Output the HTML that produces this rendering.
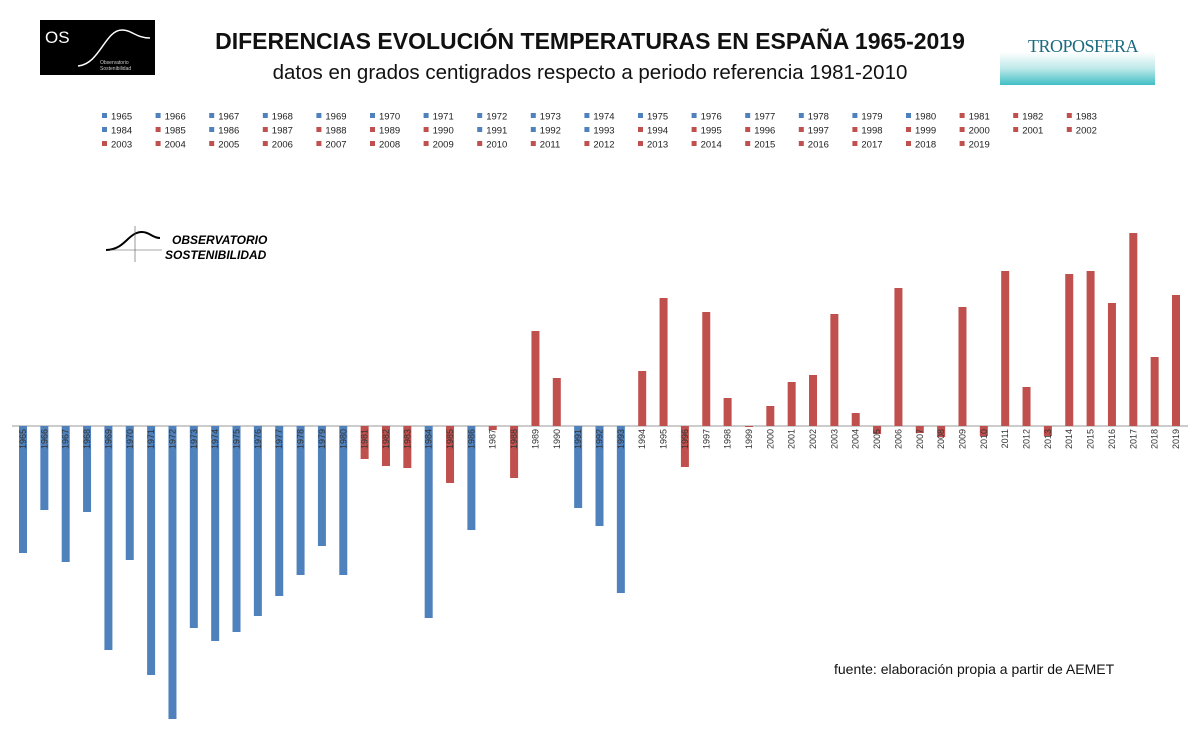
<!DOCTYPE html>
<html><head><meta charset="utf-8">
<style>
body{margin:0;background:#fff;width:1200px;height:732px;overflow:hidden;font-family:"Liberation Sans",sans-serif;}
#wrap{position:relative;width:1200px;height:732px;}
.t1{position:absolute;left:160px;top:28px;width:860px;text-align:center;font-weight:bold;font-size:23px;color:#111;}
.t2{position:absolute;left:160px;top:61px;width:860px;text-align:center;font-size:20.5px;color:#111;}
</style></head>
<body>
<div id="wrap">
<div style="position:absolute;left:40px;top:20px;width:115px;height:55px;background:#000;">
<div style="position:absolute;left:5px;top:8px;color:#fff;font-size:17px;">OS</div>
<svg width="115" height="55" style="position:absolute;left:0;top:0"><path d="M38 46 C60 44 65 10 82 10 C92 10 96 18 110 18" stroke="#fff" fill="none" stroke-width="1.5"/></svg>
<div style="position:absolute;left:60px;top:40px;color:#ccc;font-size:5px;line-height:6px;">Observatorio<br>Sostenibilidad</div>
</div>
<div class="t1">DIFERENCIAS EVOLUCIÓN TEMPERATURAS EN ESPAÑA 1965-2019</div>
<div class="t2">datos en grados centigrados respecto a periodo referencia 1981-2010</div>
<div style="position:absolute;left:1000px;top:30px;width:155px;height:55px;background:linear-gradient(#fff 0%,#fff 40%,#bfe9ea 70%,#3fbfc4 100%);">
<div style="position:absolute;left:28px;top:6px;font-family:'Liberation Serif',serif;font-size:18px;color:#1a6a80;letter-spacing:-0.5px;">TROPOSFERA</div>
</div>
<svg id="chart" width="1200" height="732" style="position:absolute;left:0;top:0"></svg>
</div>
<script>
const years=[];for(let y=1965;y<=2019;y++)years.push(y);
const values=[-1.27,-0.84,-1.36,-0.86,-2.24,-1.34,-2.49,-2.93,-2.02,-2.15,-2.06,-1.90,-1.70,-1.49,-1.20,-1.49,
-0.33,-0.40,-0.42,-1.92,-0.57,-1.04,-0.04,-0.52,0.95,0.48,-0.82,-1.00,-1.67,0.55,1.28,-0.41,1.14,0.28,-0.01,0.20,
0.44,0.51,1.12,0.13,-0.08,1.38,-0.07,-0.11,1.19,-0.10,1.55,0.39,-0.10,1.52,1.55,1.23,1.93,0.69,1.31];
const blueYears=[1965,1966,1967,1968,1969,1970,1971,1972,1973,1974,1975,1976,1977,1978,1979,1980,1984,1986,1991,1992,1993];
const BLUE="#4f81bd",RED="#c0504d";
const svg=document.getElementById('chart');const NS="http://www.w3.org/2000/svg";
const x0=23,x1=1176,base=426,pxPer=100;
const xs=i=>x0+(x1-x0)*i/(years.length-1);
const ys=v=>base-v*pxPer;
const col=y=>blueYears.includes(y)?BLUE:RED;
function mk(t,a){const e=document.createElementNS(NS,t);for(const k in a)e.setAttribute(k,a[k]);svg.appendChild(e);return e;}
years.forEach((y,i)=>{
 const c=i%19,r=Math.floor(i/19);
 const lx=105+c*53.6,ly=116+r*14;
 const m=mk('rect',{x:lx-3,y:ly-3,width:5,height:5,fill:col(y)});
 
 
 const t=mk('text',{x:lx+6,y:ly+3.5,'font-size':9.5,fill:'#222','font-family':'Liberation Sans'});
 t.textContent=y;
 
 
});
const ax=mk('line',{x1:12,x2:1188,y1:base,y2:base,stroke:'#999','stroke-width':1});


years.forEach((y,i)=>{
 const v=values[i],x=xs(i),w=8;
 const top=Math.min(ys(v),base),h=Math.max(1,Math.abs(ys(v)-base));
 const b=mk('rect',{x:x-w/2,y:top,width:w,height:h,fill:col(y)});
 
 
 const t=mk('text',{x:0,y:0,'font-size':9,fill:'#333','font-family':'Liberation Sans','text-anchor':'end',transform:`translate(${x+3},${base+3}) rotate(-90)`});
 t.textContent=y;
 
 
});
const p=mk('path',{d:'M106 250 C125 250 128 232 142 232 C150 232 152 238 160 238',stroke:'#000',fill:'none','stroke-width':2});


mk('line',{x1:135,x2:135,y1:226,y2:262,stroke:'#555','stroke-width':0.6});
mk('line',{x1:110,x2:162,y1:250,y2:250,stroke:'#555','stroke-width':0.6});
const o1=mk('text',{x:172,y:244,'font-size':12,'font-weight':'bold','font-style':'italic','font-family':'Liberation Sans'});o1.textContent='OBSERVATORIO';


const o2=mk('text',{x:165,y:259,'font-size':12,'font-weight':'bold','font-style':'italic','font-family':'Liberation Sans'});o2.textContent='SOSTENIBILIDAD';


const f=mk('text',{x:834,y:674,'font-size':14,'font-family':'Liberation Sans',fill:'#111'});f.textContent='fuente: elaboración propia a partir de AEMET';


</script>
</body></html>
